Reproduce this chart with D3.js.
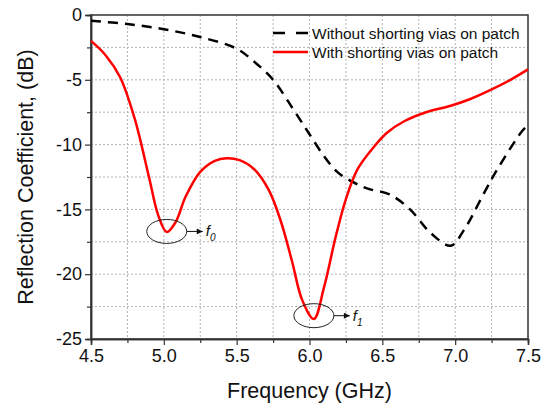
<!DOCTYPE html>
<html>
<head>
<meta charset="utf-8">
<script src="https://cdn.jsdelivr.net/npm/d3@7"></script>
<style>
  body { margin: 0; background: #fff; }
  text { font-family: "Liberation Sans", Arial, sans-serif; fill: #111; }
</style>
</head>
<body>
<div id="chart"></div>
<script>
// Series
const freqWithout = [4.5, 4.75, 5.0, 5.25, 5.5, 5.62, 5.75, 5.89, 6.0, 6.1, 6.19, 6.3, 6.4, 6.55, 6.69, 6.83, 6.97, 7.06, 7.2, 7.29, 7.46, 7.5];
const s11Without  = [-0.45, -0.7, -1.1, -1.7, -2.6, -3.6, -5.0, -7.3, -9.2, -10.9, -12.1, -12.9, -13.4, -13.85, -15.0, -16.8, -17.8, -16.6, -13.7, -11.9, -8.95, -8.5];

const freqWith = [4.5, 4.6, 4.7, 4.8, 4.9, 4.96, 5.02, 5.08, 5.15, 5.25, 5.35, 5.43, 5.52, 5.62, 5.72, 5.8, 5.88, 5.95, 6.03, 6.1, 6.18, 6.25, 6.33, 6.44, 6.53, 6.65, 6.8, 6.97, 7.1, 7.24, 7.38, 7.5];
const s11With  = [-2.0, -3.1, -4.8, -8.0, -12.6, -15.4, -16.75, -16.0, -14.0, -12.1, -11.25, -11.05, -11.2, -11.9, -13.5, -15.8, -19.0, -22.0, -23.45, -21.0, -17.1, -14.2, -11.9, -10.2, -9.1, -8.2, -7.5, -7.0, -6.5, -5.8, -5.0, -4.2];

const xTicks = [4.5, 5.0, 5.5, 6.0, 6.5, 7.0, 7.5];
const yTicks = [0, -5, -10, -15, -20, -25];
const xMinor = d3.range(4.75, 7.5, 0.5);
const yMinor = d3.range(-2.5, -25, -5);

const legendLabels = ["Without shorting vias on patch", "With shorting vias on patch"];

const width = 547, height = 409;
const margin = { left: 91, right: 19, top: 15, bottom: 70 };

const svg = d3.select("#chart").append("svg")
  .attr("width", width)
  .attr("height", height);

const x = d3.scaleLinear().domain([4.5, 7.5]).range([margin.left, width - margin.right]);
const y = d3.scaleLinear().domain([-25, 0]).range([height - margin.bottom, margin.top]);

// Dotted grid, major and minor
const gridX = d3.range(4.75, 7.5, 0.25);
const gridY = d3.range(-2.5, -25, -2.5);
svg.append("g").selectAll("line").data(gridX).enter().append("line")
  .attr("x1", d => x(d)).attr("x2", d => x(d))
  .attr("y1", y(0)).attr("y2", y(-25))
  .attr("stroke", "#b3b3b3").attr("stroke-width", 1).attr("stroke-dasharray", "2,2");
svg.append("g").selectAll("line").data(gridY).enter().append("line")
  .attr("x1", x(4.5)).attr("x2", x(7.5))
  .attr("y1", d => y(d)).attr("y2", d => y(d))
  .attr("stroke", "#b3b3b3").attr("stroke-width", 1).attr("stroke-dasharray", "2,2");

// Frame
svg.append("rect")
  .attr("x", x(4.5)).attr("y", y(0))
  .attr("width", x(7.5) - x(4.5)).attr("height", y(-25) - y(0))
  .attr("fill", "none").attr("stroke", "#333").attr("stroke-width", 1.5);

// Axes
svg.append("g")
  .attr("transform", `translate(0,${y(-25)})`)
  .call(d3.axisBottom(x).tickValues(xTicks).tickFormat(d3.format(".1f")).tickSize(6).tickPadding(4));
svg.append("g")
  .attr("transform", `translate(0,${y(-25)})`)
  .call(d3.axisBottom(x).tickValues(xMinor).tickFormat("").tickSize(4));
svg.append("g")
  .attr("transform", `translate(${x(4.5)},0)`)
  .call(d3.axisLeft(y).tickValues(yTicks).tickFormat(d => String(d)).tickSize(6).tickPadding(3));
svg.append("g")
  .attr("transform", `translate(${x(4.5)},0)`)
  .call(d3.axisLeft(y).tickValues(yMinor).tickFormat("").tickSize(4));

svg.selectAll(".domain").attr("stroke", "#333").attr("stroke-width", 1.5);
svg.selectAll(".tick line").attr("stroke", "#333").attr("stroke-width", 1.2);
svg.selectAll(".tick text").style("font-size", "18px").style("font-family", "Liberation Sans, Arial, sans-serif").attr("fill", "#111");

// Axis titles
svg.append("text")
  .attr("x", (x(4.5) + x(7.5)) / 2).attr("y", 398)
  .attr("text-anchor", "middle").style("font-size", "21.5px")
  .text("Frequency (GHz)");
svg.append("text")
  .attr("transform", `translate(33,${(y(0) + y(-25)) / 2}) rotate(-90)`)
  .attr("text-anchor", "middle").style("font-size", "21.5px")
  .text("Reflection Coefficient, (dB)");

// Curves
const line = d3.line().x(d => x(d[0])).y(d => y(d[1])).curve(d3.curveCatmullRom.alpha(0.5));
const plot = svg.append("g");
plot.append("path")
  .datum(d3.zip(freqWithout, s11Without))
  .attr("d", line)
  .attr("fill", "none").attr("stroke", "#000").attr("stroke-width", 2.5)
  .attr("stroke-dasharray", "10,7");
plot.append("path")
  .datum(d3.zip(freqWith, s11With))
  .attr("d", line)
  .attr("fill", "none").attr("stroke", "#ff0000").attr("stroke-width", 2.5);

// Legend
const legend = svg.append("g");
legend.append("line")
  .attr("x1", 273).attr("x2", 308).attr("y1", 33).attr("y2", 33)
  .attr("stroke", "#000").attr("stroke-width", 2.5).attr("stroke-dasharray", "12,11");
legend.append("line")
  .attr("x1", 273).attr("x2", 308).attr("y1", 52).attr("y2", 52)
  .attr("stroke", "#ff0000").attr("stroke-width", 2.5);
legend.selectAll("text.lg").data(legendLabels).enter().append("text")
  .attr("class", "lg")
  .attr("x", 312).attr("y", (d, i) => 39 + i * 19)
  .style("font-size", "15.5px")
  .text(d => d);

// Resonance annotations
svg.append("defs").append("marker")
  .attr("id", "arrow").attr("viewBox", "0 0 10 10")
  .attr("refX", 10).attr("refY", 5)
  .attr("markerWidth", 7).attr("markerHeight", 6).attr("orient", "auto")
  .attr("markerUnits", "userSpaceOnUse")
  .append("path").attr("d", "M0,0L10,5L0,10z").attr("fill", "#111");

const notes = [
  { f: 5.02, v: -16.7, sub: "0" },
  { f: 6.03, v: -23.2, sub: "1" }
];
notes.forEach(n => {
  const cx = x(n.f), cy = y(n.v);
  svg.append("ellipse")
    .attr("cx", cx).attr("cy", cy).attr("rx", 20).attr("ry", 12)
    .attr("fill", "none").attr("stroke", "#222").attr("stroke-width", 1);
  svg.append("line")
    .attr("x1", cx + 20).attr("x2", cx + 36).attr("y1", cy).attr("y2", cy)
    .attr("stroke", "#111").attr("stroke-width", 1).attr("marker-end", "url(#arrow)");
  const t = svg.append("text")
    .attr("x", cx + 39).attr("y", cy + 5)
    .style("font-size", "15px").style("font-style", "italic");
  t.append("tspan").text("f");
  t.append("tspan").attr("dy", 5).style("font-size", "10px").text(n.sub);
});
</script>
</body>
</html>
